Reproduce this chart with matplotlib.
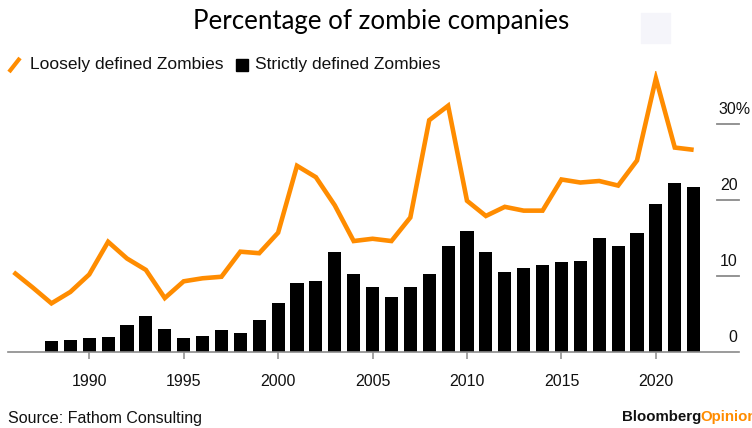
import matplotlib
matplotlib.use('Agg')
import matplotlib.pyplot as plt
import matplotlib.transforms as mtransforms
from matplotlib.lines import Line2D
from matplotlib.patches import Rectangle

# --- data ---
line_years = list(range(1986, 2023))
loose = [10.5, 8.5, 6.4, 7.9, 10.2, 14.5, 12.3, 10.8, 7.1, 9.3,
         9.7, 9.9, 13.2, 13.0, 15.7, 24.5, 23.0, 19.3, 14.6, 14.9,
         14.6, 17.7, 30.5, 32.4, 19.9, 17.9, 19.1, 18.6, 18.6, 22.7,
         22.3, 22.5, 21.9, 25.2, 36.0, 26.9, 26.6]
bar_years = list(range(1988, 2023))
strict = [1.5, 1.6, 1.8, 2.0, 3.5, 4.8, 3.0, 1.8, 2.1, 2.9,
          2.5, 4.2, 6.5, 9.1, 9.3, 13.1, 10.2, 8.6, 7.2, 8.5,
          10.2, 14.0, 15.9, 13.2, 10.5, 11.0, 11.4, 11.9, 12.0, 15.0,
          14.0, 15.7, 19.5, 22.3, 21.7]
x_ticks = [1990, 1995, 2000, 2005, 2010, 2015, 2020]
y_ticks = [0, 10, 20, 30]
y_labels = ['0', '10', '20', '30%']

ORANGE = '#ff8c00'
GREY = '#8a8a8a'
NARROW = ['Liberation Sans Narrow', 'Liberation Sans', 'DejaVu Sans']

W, H = 752, 428
def fx(px): return px / W
def fy(py): return 1 - py / H

plt.rcParams['font.family'] = NARROW

fig = plt.figure(figsize=(W / 100, H / 100), dpi=100)
ax = fig.add_axes([fx(8), fy(352), fx(739) - fx(8), fy(70.8) - fy(352)])

ax.bar(bar_years, strict, width=0.7, color='black', zorder=2)
ax.plot(line_years, loose, color=ORANGE, lw=3.3, solid_joinstyle='miter',
        solid_capstyle='butt', zorder=3)

ax.set_xlim(1985.7, 2024.4)
ax.set_ylim(0, 37)
for s in ['top', 'right', 'left']:
    ax.spines[s].set_visible(False)
ax.spines['bottom'].set_color(GREY)
ax.spines['bottom'].set_linewidth(1.2)
ax.set_yticks([])
ax.set_xticks(x_ticks)
ax.tick_params(axis='x', length=5, width=1.1, color=GREY, pad=11,
               labelsize=11.5, labelcolor='#111111')

# short right-hand gridlines and value labels
trans = mtransforms.blended_transform_factory(ax.transAxes, ax.transData)
for v, lab in zip(y_ticks, y_labels):
    if v > 0:
        ax.plot([0.970, 1.0], [v, v], color=GREY, lw=1.3, transform=trans,
                clip_on=False)
    if lab.endswith('%'):
        ax.annotate(lab, xy=(0.970, v), xycoords=trans, xytext=(1, 5),
                    textcoords='offset points', ha='left', va='bottom',
                    fontsize=11.5, color='#111111', annotation_clip=False)
    else:
        ax.annotate(lab, xy=(1.0, v), xycoords=trans, xytext=(-1, 5),
                    textcoords='offset points', ha='right', va='bottom',
                    fontsize=11.5, color='#111111', annotation_clip=False)

# title
fig.text(fx(381), fy(22), 'Percentage of zombie companies', ha='center',
         va='center', fontsize=18.6, family=['Lato', 'DejaVu Sans'], color='black')

# faint artefact in the top right
fig.patches.append(Rectangle((fx(641), fy(43)), fx(670) - fx(641), fy(13) - fy(43),
                             transform=fig.transFigure, color='#f5f5fa', zorder=0))

# legend
fig.lines.append(Line2D([fx(9), fx(20)], [fy(72), fy(58)], color=ORANGE, lw=3,
                        transform=fig.transFigure, solid_capstyle='butt'))
fig.text(fx(30), fy(65), 'Loosely defined Zombies', ha='left', va='center',
         fontsize=12.5, color='#111111')
fig.patches.append(Rectangle((fx(236), fy(71)), fx(248) - fx(236), fy(59) - fy(71),
                             transform=fig.transFigure, color='black'))
fig.text(fx(255), fy(65), 'Strictly defined Zombies', ha='left', va='center',
         fontsize=12.5, color='#111111')

# footer
fig.text(fx(8), fy(418), 'Source: Fathom Consulting', ha='left', va='center',
         fontsize=11.5, color='#111111')
fig.text(fx(622), fy(417), 'Bloomberg', ha='left', va='center',
         fontsize=10.8, fontweight='bold', color='#111111')
fig.text(fx(700), fy(417), 'Opinion', ha='left', va='center',
         fontsize=10.8, fontweight='bold', color=ORANGE)

fig.savefig('out.png', dpi=100)
